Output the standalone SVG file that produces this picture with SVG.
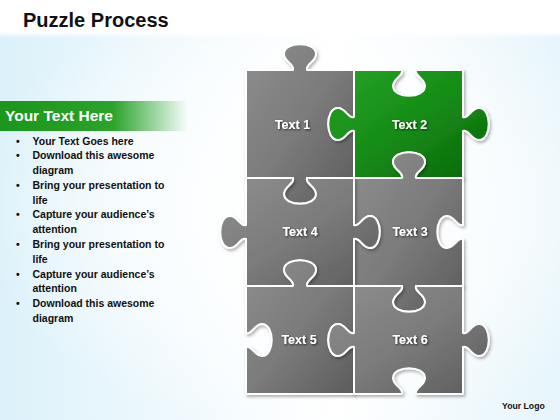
<svg xmlns="http://www.w3.org/2000/svg" width="560" height="420" viewBox="0 0 560 420">
<defs>
<linearGradient id="bgL" x1="0" y1="0" x2="1" y2="0">
<stop offset="0" stop-color="#dcf1fa"/><stop offset="0.4" stop-color="#f4fbfe"/><stop offset="0.6" stop-color="#ffffff"/><stop offset="1" stop-color="#e6f5fb"/>
</linearGradient>
<radialGradient id="bgR" cx="0.56" cy="0.45" r="0.6">
<stop offset="0" stop-color="#ffffff" stop-opacity="1"/><stop offset="0.6" stop-color="#ffffff" stop-opacity="0.6"/><stop offset="1" stop-color="#ffffff" stop-opacity="0"/>
</radialGradient>
<linearGradient id="topFade" x1="0" y1="0" x2="0" y2="1">
<stop offset="0" stop-color="#ffffff" stop-opacity="1"/><stop offset="1" stop-color="#ffffff" stop-opacity="0"/>
</linearGradient>
<linearGradient id="bar" x1="0" y1="0" x2="1" y2="0">
<stop offset="0" stop-color="#1a961a"/><stop offset="0.6" stop-color="#2aa42a"/><stop offset="1" stop-color="#2aa42a" stop-opacity="0"/>
</linearGradient>
<linearGradient id="grey" x1="0" y1="0" x2="1" y2="1">
<stop offset="0" stop-color="#8e8e8e"/><stop offset="0.5" stop-color="#7b7b7b"/><stop offset="1" stop-color="#5c5c5c"/>
</linearGradient>
<linearGradient id="green" x1="0" y1="0" x2="1" y2="1">
<stop offset="0" stop-color="#26a326"/><stop offset="0.5" stop-color="#168c16"/><stop offset="1" stop-color="#0a650a"/>
</linearGradient>
<filter id="sh" x="-20%" y="-20%" width="140%" height="140%">
<feDropShadow dx="1.5" dy="2" stdDeviation="1.8" flood-color="#000" flood-opacity="0.3"/>
</filter>
<filter id="tsh" x="-20%" y="-40%" width="140%" height="180%">
<feDropShadow dx="1" dy="1" stdDeviation="0.8" flood-color="#000" flood-opacity="0.7"/>
</filter>
</defs>
<style>
.piece{stroke:#ffffff;stroke-width:2;stroke-linejoin:round;filter:url(#sh)}
.g{fill:url(#grey)}
.gr{fill:url(#green)}
.lbl{font-family:"Liberation Sans",Arial,sans-serif;font-weight:bold;font-size:12.5px;fill:#ffffff;text-anchor:middle;filter:url(#tsh)}
.bul{font-family:"Liberation Sans",Arial,sans-serif;font-weight:bold;font-size:10.5px;fill:#111111}
</style>
<rect x="0" y="0" width="560" height="420" fill="#ffffff"/>
<rect x="0" y="32" width="560" height="388" fill="url(#bgL)"/>
<rect x="0" y="32" width="560" height="388" fill="url(#bgR)"/>
<rect x="0" y="0" width="560" height="32" fill="#ffffff"/>
<rect x="0" y="32" width="560" height="6" fill="url(#topFade)"/>

<text x="23" y="27" font-family="'Liberation Sans',Arial,sans-serif" font-weight="bold" font-size="20" fill="#111111">Puzzle Process</text>

<rect x="0" y="101" width="188" height="30" fill="url(#bar)"/>
<text x="5" y="121" font-family="'Liberation Sans',Arial,sans-serif" font-weight="bold" font-size="15.5" fill="#ffffff">Your Text Here</text>

<g class="bul">
<text x="16" y="144.5">•</text><text x="32.5" y="144.5">Your Text Goes here</text>
<text x="16" y="159.3">•</text><text x="32.5" y="159.3">Download this awesome</text>
<text x="32.5" y="174">diagram</text>
<text x="16" y="188.8">•</text><text x="32.5" y="188.8">Bring your presentation to</text>
<text x="32.5" y="203.6">life</text>
<text x="16" y="218.4">•</text><text x="32.5" y="218.4">Capture your audience’s</text>
<text x="32.5" y="233.2">attention</text>
<text x="16" y="248">•</text><text x="32.5" y="248">Bring your presentation to</text>
<text x="32.5" y="262.8">life</text>
<text x="16" y="277.6">•</text><text x="32.5" y="277.6">Capture your audience’s</text>
<text x="32.5" y="292.4">attention</text>
<text x="16" y="307.2">•</text><text x="32.5" y="307.2">Download this awesome</text>
<text x="32.5" y="322">diagram</text>
</g>

<g id="connectors"></g>

<g id="piece1">
<path class="piece g" d="M246,70 L293,70 C295,64 284,62 284,54 C284,41 316,41 316,54 C316,62 305,64 307,70 L354,70 L354,117 C348,119 346,108 338,108 C325,108 325,140 338,140 C346,140 348,129 354,131 L354,178 L307,178 C305,184 316,186 316,194 C316,207 284,207 284,194 C284,186 295,184 293,178 L246,178 Z"/>
<text class="lbl" x="292.5" y="128.5">Text 1</text>
</g>
<g id="piece2">
<path class="piece gr" d="M354,70 L402,70 C404,76 393,78 393,86 C393,99 425,99 425,86 C425,78 414,76 416,70 L463,70 L463,117 C469,119 471,108 479,108 C492,108 492,140 479,140 C471,140 469,129 463,131 L463,178 L416,178 C414,172 425,170 425,162 C425,149 393,149 393,162 C393,170 404,172 402,178 L354,178 L354,131 C348,129 346,140 338,140 C325,140 325,108 338,108 C346,108 348,119 354,117 Z"/>
<text class="lbl" x="409.5" y="128.5">Text 2</text>
</g>
<g id="piece3">
<path class="piece g" d="M354,178 L402,178 C404,172 393,170 393,162 C393,149 425,149 425,162 C425,170 414,172 416,178 L463,178 L463,225 C457,227 455,216 447,216 C434,216 434,248 447,248 C455,248 457,237 463,239 L463,286 L416,286 C414,292 425,294 425,302 C425,315 393,315 393,302 C393,294 404,292 402,286 L354,286 L354,239 C360,237 362,248 370,248 C383,248 383,216 370,216 C362,216 360,227 354,225 Z"/>
<text class="lbl" x="410" y="236">Text 3</text>
</g>
<g id="piece4">
<path class="piece g" d="M246,178 L293,178 C295,184 284,186 284,194 C284,207 316,207 316,194 C316,186 305,184 307,178 L354,178 L354,225 C360,227 362,216 370,216 C383,216 383,248 370,248 C362,248 360,237 354,239 L354,286 L307,286 C305,280 316,278 316,270 C316,257 284,257 284,270 C284,278 295,280 293,286 L246,286 L246,239 C240,237 238,248 230,248 C217,248 217,216 230,216 C238,216 240,227 246,225 Z"/>
<text class="lbl" x="300" y="236">Text 4</text>
</g>
<g id="piece5">
<path class="piece g" d="M246,286 L293,286 C295,280 284,278 284,270 C284,257 316,257 316,270 C316,278 305,280 307,286 L354,286 L354,333 C348,335 346,324 338,324 C325,324 325,356 338,356 C346,356 348,345 354,347 L354,394 L246,394 L246,347 C252,345 254,356 262,356 C275,356 275,324 262,324 C254,324 252,335 246,333 Z"/>
<text class="lbl" x="299" y="344">Text 5</text>
</g>
<g id="piece6">
<path class="piece g" d="M354,286 L402,286 C404,292 393,294 393,302 C393,315 425,315 425,302 C425,294 414,292 416,286 L463,286 L463,333 C469,335 471,324 479,324 C492,324 492,356 479,356 C471,356 469,345 463,347 L463,394 L416,394 C414,388 425,386 425,378 C425,365 393,365 393,378 C393,386 404,388 402,394 L354,394 L354,347 C348,345 346,356 338,356 C325,356 325,324 338,324 C346,324 348,335 354,333 Z"/>
<text class="lbl" x="410" y="344">Text 6</text>
</g>

<text x="502" y="409" font-family="'Liberation Sans',Arial,sans-serif" font-weight="bold" font-size="8.7" fill="#111111">Your Logo</text>
</svg>
